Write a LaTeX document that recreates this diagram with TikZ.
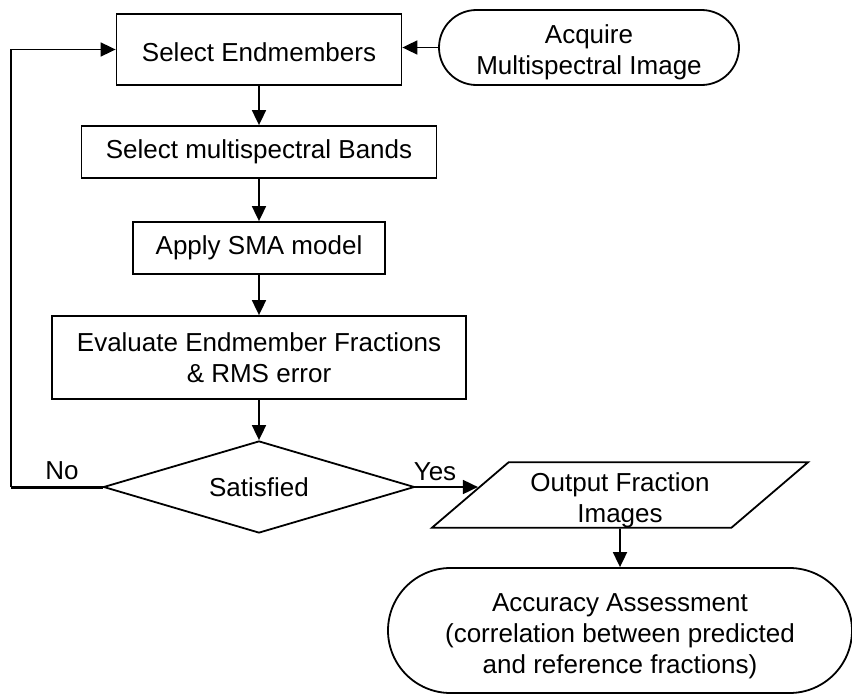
\documentclass[tikz,border=0pt]{standalone}
\usepackage{fontspec}
\setmainfont{Liberation Sans}
\usetikzlibrary{shapes.geometric,shapes.misc,arrows.meta}
\newcommand{\dropstrut}{\rule{0pt}{14.5pt}}
\tikzset{
  txt/.style={font=\fontsize{13}{15.5}\selectfont, align=center, inner sep=0pt},
  procbox/.style={txt, draw, line width=0.9pt, rectangle},
  termbox/.style={txt, draw, line width=0.9pt, rounded rectangle},
  decbox/.style={txt, draw, line width=0.9pt, diamond, shape aspect=3.4},
  iobox/.style={txt, draw, line width=0.9pt, trapezium, trapezium left angle=40.5, trapezium right angle=139.5, trapezium stretches body},
  arr/.style={line width=0.9pt, -{Triangle[length=7.5pt,width=7pt]}},
  lbl/.style={font=\fontsize{13}{15.5}\selectfont, inner sep=0pt}
}
\begin{document}
\begin{tikzpicture}[x=0.5pt,y=-0.5pt]
\useasboundingbox (0,0) rectangle (852,696);
\node[procbox, minimum width=142.5pt, minimum height=35.5pt] (sel) at (259,49.5) {\rule{0pt}{12.5pt}Select Endmembers};
\node[termbox, minimum width=150pt, minimum height=37.5pt] (acq) at (589,47.5) {\dropstrut Acquire\\Multispectral Image};
\node[procbox, minimum width=177.5pt, minimum height=26pt] (bands) at (259,152) {Select multispectral Bands};
\node[procbox, minimum width=126pt, minimum height=26pt] (sma) at (259,248) {Apply SMA model};
\node[procbox, minimum width=207pt, minimum height=41.5pt] (eval) at (259,357.5) {Evaluate Endmember Fractions\\\& RMS error};
\node[decbox, minimum width=155.5pt, minimum height=46pt] (dia) at (259,487) {Satisfied};
\node[iobox, minimum width=188pt, minimum height=32pt] (out) at (620,495) {\dropstrut Output Fraction\\Images};
\node[termbox, minimum width=232pt, minimum height=62.5pt] (acc) at (620,630.5) {\dropstrut Accuracy Assessment\\(correlation between predicted\\and reference fractions)};
\node[lbl] (no) at (62,471) {No};
\node[lbl] (yes) at (435,472) {Yes};
\coordinate (fb) at (11,49.5);
\draw[arr] (acq.west) -- (acq.west -| sel.east);
\draw[arr] (sel.south) -- (bands.north);
\draw[arr] (bands.south) -- (sma.north);
\draw[arr] (sma.south) -- (eval.north);
\draw[arr] (eval.south) -- (dia.north);
\draw[line width=1.5pt] (dia.west) -- (dia.west -| fb);
\draw[arr] (dia.west -| fb) -- (fb) -- (sel.west);
\draw[arr] (dia.east) -- ([xshift=4.5pt]dia.east -| out.west);
\draw[arr] (out.south) -- (acc.north);
\end{tikzpicture}
\end{document}
